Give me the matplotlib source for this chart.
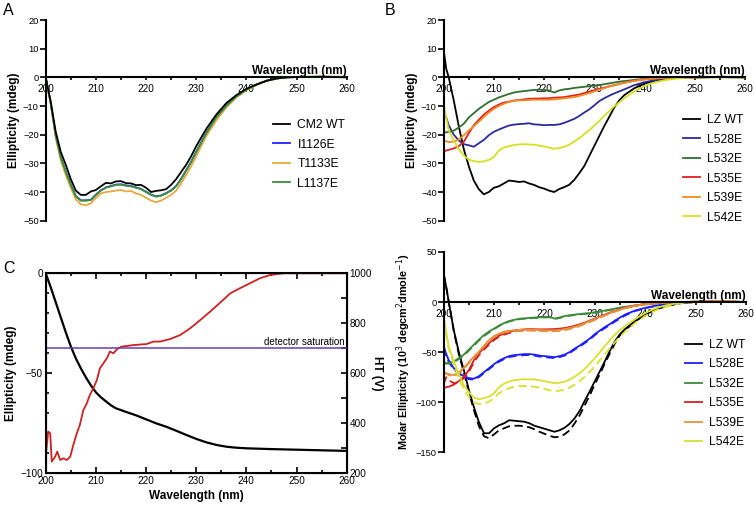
import numpy as np
import matplotlib.pyplot as plt
from matplotlib.ticker import MultipleLocator

plt.rcParams['font.family'] = ['Liberation Sans', 'DejaVu Sans']

# ---------------- panel A ----------------
wl_a = [200, 201, 202, 203, 204, 205, 206, 207, 208, 209, 210, 211, 212, 213, 214, 215,
        216, 217, 218, 219, 220, 221, 222, 223, 224, 225, 226, 227, 228, 229, 230, 232,
        234, 236, 238, 240, 242, 244, 246, 248, 250, 255, 260]
cm2_wt = [0, -8.5, -19, -26, -30.5, -35.5, -39.5, -41, -41, -39.8, -39.3, -38, -36.8, -37,
          -36.3, -36.2, -36.9, -37, -37.6, -37.5, -38.5, -40, -39.6, -39.4, -39, -37.5, -35.5,
          -33, -30.5, -27.5, -24, -18, -13, -9, -6.2, -4, -2.5, -1.2, -0.4, 0, 0.1, 0.2, 0]
i1126e = [0, -9, -20.4, -27.9, -32.9, -37.4, -41.4, -42.9, -42.9, -42.7, -40.9, -39.4, -38.4,
          -37.9, -37.4, -37.3, -37.7, -37.9, -38.4, -38.9, -39.9, -40.9, -41.5, -41.2, -40.4,
          -39.4, -37.9, -35.4, -32.4, -29.4, -25.9, -19.4, -13.9, -9.9, -6.6, -4.2, -2.5,
          -1.2, -0.4, 0, 0.1, 0.2, 0.1]
t1133e = [0, -9, -21, -29, -34, -38.5, -42.5, -44.3, -44.6, -44, -42, -40.5, -40, -39.8,
          -39.5, -39.3, -39.8, -39.6, -40.5, -41, -42, -43, -43.5, -43, -42, -41, -39.5, -37,
          -34, -31, -27.5, -20.5, -15, -10.5, -7, -4.5, -2.7, -1.3, -0.5, 0, 0.2, 0.3, 0.2]
l1137e = [0, -9, -20.5, -28, -33, -37.5, -41.5, -43, -43, -42.8, -41, -39.5, -38.5, -38,
          -37.5, -37.4, -37.8, -38, -38.5, -39, -40, -41, -41.6, -41.3, -40.5, -39.5, -38,
          -35.5, -32.5, -29.5, -26, -19.5, -14, -10, -6.7, -4.3, -2.6, -1.2, -0.4, 0, 0.1,
          0.2, 0.1]

# ---------------- panel B / D common grid ----------------
wl_b = [200, 200.5, 201, 202, 203, 204, 205, 206, 207, 208, 209, 210, 211, 212, 213, 214,
        215, 216, 217, 218, 219, 220, 221, 222, 223, 224, 225, 226, 227, 228, 229, 230, 231,
        232, 233, 234, 235, 236, 238, 240, 242, 244, 246, 248, 250, 255, 260]

lz_wt = [9.5, 3, 0, -8, -17, -25, -31, -36, -39, -40.8, -40, -38.5, -38, -37, -36, -36.2,
         -36.5, -36.3, -37, -37.5, -38.3, -38.8, -39.5, -40, -39, -38.3, -37.5, -35.8, -33.5,
         -31, -27.5, -24, -20.5, -17, -13.8, -10.5, -8, -6.2, -3.8, -2.2, -1.2, -0.6, -0.2,
         0, 0, 0.1, 0]
l528e = [-11.5, -14, -16.7, -20, -22, -23.3, -23.7, -24.2, -23, -21.8, -20.2, -19, -18.2,
         -17.5, -16.8, -16.5, -16.3, -16.2, -16, -16.4, -16.5, -16.7, -16.6, -16.6, -16.4,
         -15.9, -15.2, -14.5, -13.5, -12.3, -11.2, -9.8, -8.3, -7.3, -6.4, -5.6, -4.9, -4.2,
         -2.7, -1.7, -1, -0.6, -0.3, -0.1, 0, 0.1, 0]
l532e = [-19, -19.2, -19, -18.6, -17.5, -16.2, -14, -12.5, -11, -9.8, -8.6, -7.8, -7, -6.4,
         -5.8, -5.3, -5, -4.8, -4.6, -4.4, -4.3, -4.4, -4.6, -5.3, -4.6, -4.2, -4, -3.7, -3.5,
         -3.3, -3.1, -2.9, -2.7, -2.4, -2.1, -1.8, -1.5, -1.3, -0.9, -0.5, -0.3, -0.2, -0.1,
         0, 0, 0.2, 0]
l535e = [-26, -25.5, -25.3, -24.8, -24, -22.5, -19.5, -16.7, -14.8, -13, -11.6, -10.4, -9.5,
         -8.8, -8.5, -8.1, -7.9, -7.7, -7.5, -7.4, -7.4, -7.3, -7.3, -7.1, -7, -6.9, -6.6,
         -6.3, -6, -5.5, -5, -4.5, -4, -3.6, -3.1, -2.7, -2.3, -1.9, -1.2, -0.7, -0.4, -0.2,
         -0.1, 0, 0, 0.2, 0.1]
l539e = [-22, -22.3, -22.6, -22.4, -21.7, -20.2, -18.5, -17, -15.5, -13.8, -12.3, -11, -10,
         -9.2, -8.6, -8.2, -8, -8, -7.9, -7.8, -7.8, -7.8, -7.8, -7.7, -7.5, -7.3, -7.1, -6.9,
         -6.5, -6, -5.5, -4.9, -4.3, -3.8, -3.2, -2.8, -2.3, -1.9, -1.2, -0.7, -0.4, -0.2,
         -0.1, 0, 0, 0.1, 0]
l542e = [-9.2, -14, -18.5, -22, -25, -27.3, -28.7, -29.2, -29.5, -29.3, -28.8, -27.8, -25.5,
         -24.5, -24, -23.6, -23.4, -23.3, -23.4, -23.5, -23.8, -24.1, -24.5, -24.9, -24.7,
         -24.2, -23.5, -22.4, -21.3, -19.8, -18.5, -16.8, -15.2, -13.4, -11.8, -10.1, -8.7,
         -7.3, -4.9, -3, -1.8, -1, -0.5, -0.2, 0, 0, 0]

# ---------------- panel D (molar ellipticity, solid / dashed) ----------------
lz_wt_m = [28, 15, 0, -28, -50, -68, -88, -105, -120, -131, -131, -126, -123, -121, -118,
           -118.5, -119, -119.5, -121, -123.5, -125, -126.5, -128, -129.5, -128, -125.5,
           -121.5, -116, -108.5, -98.5, -89, -79, -69, -59, -48.5, -39, -32, -27, -19, -12,
           -7.5, -4.2, -2, -0.6, 0, 0.5, 0]
lz_wt_m2 = [28, 15, 0, -29, -52, -70, -90, -108, -124, -134, -136, -132, -128, -126, -124,
            -123.5, -123.5, -124, -125, -127, -129.5, -131.5, -133.5, -135, -134.5, -132,
            -128, -121, -113, -103, -93, -82, -72, -61, -51, -41, -33, -28, -19.5, -12.5,
            -7.8, -4.4, -2.1, -0.7, 0, 0.5, 0]
l528e_m = [-44, -52, -58, -66, -71, -74, -76, -76.5, -74, -70, -66, -62, -58.5, -56, -54, -53,
           -52.5, -52, -52, -52.5, -53.5, -54, -54.5, -55, -54, -52.5, -50, -46.5, -43.5, -40,
           -36.5, -32, -28.5, -25, -22, -18.5, -15.5, -12.5, -8.5, -5.8, -3.8, -2.3, -1.2,
           -0.4, 0, 0.3, 0]
l528e_m2 = [-46, -54, -60, -67, -72, -75, -77, -77.5, -75, -71, -67, -63, -59.5, -57, -55,
            -54, -53.5, -53, -53, -53.5, -54.5, -55, -55.5, -56, -55, -53.5, -51, -47.5,
            -44.5, -41, -37.5, -33, -29.5, -26, -23, -19.5, -16.5, -13.5, -9, -6.2, -4, -2.4,
            -1.3, -0.5, 0, 0.3, 0]
l532e_m = [-61, -61.5, -61, -59.5, -56, -52.5, -47.5, -42.5, -37.5, -33, -29.5, -26.5, -23.5,
           -21, -19, -17.8, -16.8, -16.3, -15.9, -15.5, -15.2, -15, -14.8, -16.5, -15.5, -14,
           -13.2, -12.6, -12, -11.5, -11, -10.2, -9.4, -8.5, -7.6, -6.6, -5.6, -4.8, -3.5,
           -2.3, -1.5, -0.8, -0.3, 0, 0.2, 0.3, 0]
l532e_m2 = [-60, -61, -61.5, -60, -57, -53.5, -48.5, -43.5, -38.5, -34, -30.5, -27, -24,
            -21.5, -19.5, -18.2, -17.2, -16.7, -16.3, -16, -15.7, -15.5, -15.3, -17, -16,
            -14.5, -13.7, -13, -12.4, -11.9, -11.4, -10.6, -9.8, -8.9, -8, -7, -6, -5.1, -3.7,
            -2.4, -1.6, -0.9, -0.4, 0, 0.2, 0.3, 0]
l535e_m = [-86, -85, -84.5, -82.5, -79, -74.5, -68, -58, -51, -46, -41, -37, -33.5, -31.5,
           -30, -28.5, -27.8, -27.3, -27, -27.2, -27.3, -27.3, -27.2, -27, -26.6, -26, -25,
           -23.8, -22.2, -20.5, -18.5, -16.5, -14.5, -12.5, -10.5, -8.8, -7.2, -5.8, -3.5,
           -2, -1.1, -0.5, -0.1, 0, 0.3, 0.6, 0]
l535e_m2 = [-82, -75, -78, -81, -80, -76, -70, -60, -53, -47.5, -42.5, -38, -34.5, -32.5,
            -31, -29.5, -28.8, -28.3, -28, -28.2, -28.3, -28.4, -28.3, -28.1, -27.7, -27, -26,
            -24.8, -23.2, -21.4, -19.4, -17.3, -15.2, -13.1, -11, -9.2, -7.5, -6.1, -3.7,
            -2.1, -1.2, -0.6, -0.2, 0, 0.4, 0.7, 0]
l539e_m = [-71, -71.5, -72, -73, -70.5, -65.5, -60, -54.5, -49.5, -43.5, -38, -34, -31.5,
           -29.5, -28.8, -28.2, -27.8, -27.6, -27.5, -27.8, -28, -28.2, -28.3, -28.2, -27.8,
           -27, -26, -24.8, -23, -21, -19, -17, -15, -13, -11, -9.2, -7.5, -6, -3.7, -2.1,
           -1.1, -0.5, -0.1, 0, 0.2, 0.4, 0]
l539e_m2 = [-70, -71, -73, -74, -71.5, -66.5, -61, -55.5, -50.5, -44.5, -39, -35, -32.5,
            -30.5, -29.8, -29.2, -28.8, -28.6, -28.5, -28.8, -29, -29.2, -29.3, -29.2, -28.8,
            -28, -27, -25.8, -24, -22, -20, -17.8, -15.7, -13.6, -11.5, -9.6, -7.8, -6.3,
            -3.9, -2.2, -1.2, -0.6, -0.2, 0, 0.2, 0.4, 0]
l542e_m = [-14, -30, -44.5, -59, -72, -83, -90, -95.5, -97, -96, -94.5, -91, -85, -81.5,
           -79.5, -78, -77.5, -77, -77.2, -77.3, -78, -79, -80, -81, -80.5, -79.5, -77.5,
           -74.5, -71, -66.5, -61.5, -56, -50, -44, -38, -32.5, -28, -24, -17, -11, -6.3,
           -3.5, -1.5, -0.5, 0, 0.3, 0]
l542e_m2 = [-18, -33, -47, -62, -76, -87, -95, -100.5, -102, -101, -99.5, -96, -91, -88, -86,
            -84.5, -84, -83.8, -84, -84.5, -85.5, -86.5, -88, -89, -88.5, -87.5, -85.5, -82.5,
            -79, -74.5, -69.5, -64, -58, -52, -46, -40, -34.5, -29.5, -21, -14, -8.5, -4.8,
            -2.2, -0.8, 0, 0.4, 0]

# ---------------- panel C ----------------
wl_c = [200, 201, 202, 203, 204, 205, 206, 207, 208, 209, 210, 211, 212, 213, 214, 216, 218,
        220, 222, 224, 226, 228, 230, 232, 234, 236, 238, 240, 245, 250, 255, 260]
ell_c = [0, -7, -14.5, -22, -29.5, -36.5, -42.5, -47.5, -52, -56, -59.5, -62, -64, -66,
         -67.5, -69.3, -71, -73, -75, -76.7, -78.7, -80.8, -82.8, -84.5, -85.8, -86.7, -87.2,
         -87.5, -87.9, -88.2, -88.5, -88.8]
wl_ht = [200, 200.5, 200.9, 201.2, 201.9, 202.3, 202.9, 203.5, 204.2, 204.9, 205.5, 206.2,
         206.8, 207.5, 208.2, 208.8, 209.5, 210.2, 210.8, 211.5, 212.2, 212.8, 213.5, 214.2,
         215.1, 216.1, 217.5, 220.1, 221.5, 222.8, 224.8, 226.8, 228.8, 230.8, 232.8, 234.8,
         236.8, 238.7, 240.7, 242.7, 244.7, 247.4, 260]
ht_v = [267, 367, 360, 247, 267, 287, 253, 260, 253, 267, 313, 360, 393, 453, 480, 513, 540,
        573, 620, 640, 660, 687, 680, 696, 707, 709, 713, 717, 727, 727, 737, 753, 780, 813,
        847, 883, 920, 940, 960, 980, 993, 1000, 1000]
saturation_ht = 700

FS_TICK = 7.2
FS_LAB = 8.5
FS_LEG = 8.7


def style_cd(ax, ylo, yhi, ystep, ylabel):
    ax.set_xlim(200, 260)
    ax.set_ylim(ylo, yhi)
    for s in ('top', 'right'):
        ax.spines[s].set_visible(False)
    ax.spines['bottom'].set_position(('data', 0))
    ax.spines['bottom'].set_linewidth(1.5)
    ax.spines['left'].set_linewidth(1.5)
    ax.xaxis.set_major_locator(MultipleLocator(10))
    ax.xaxis.set_minor_locator(MultipleLocator(5))
    ax.yaxis.set_major_locator(MultipleLocator(ystep))
    ax.tick_params(axis='x', which='both', direction='out', length=2.5, width=1.2,
                   labelsize=FS_TICK, pad=2.5)
    ax.tick_params(axis='y', direction='out', length=4, width=1.2, labelsize=FS_TICK - 0.5,
                   pad=1)
    ax.set_ylabel(ylabel, fontsize=FS_LAB, fontweight='bold', labelpad=2)
    ax.text(260, 0, 'Wavelength (nm)', ha='right', va='bottom', fontsize=FS_LAB,
            fontweight='bold', transform=ax.transData,
            bbox=dict(boxstyle='square,pad=0.1', fc='none', ec='none'))
    ax.patch.set_visible(False)


fig = plt.figure(figsize=(7.54, 5.07), dpi=100)
W, H = 754, 507


def add_ax(x0, y0, x1, y1):
    return fig.add_axes([x0 / W, 1 - y1 / H, (x1 - x0) / W, (y1 - y0) / H])


leg_kw = dict(loc='upper left', frameon=False, fontsize=FS_LEG, handlelength=1.4,
              handletextpad=0.6, labelspacing=0.62, borderaxespad=0)

# panel A
axA = add_ax(45.7, 20, 346.7, 220.7)
axA.plot(wl_a, i1126e, color='#2020ff', lw=1.3, label='I1126E', zorder=1)
axA.plot(wl_a, t1133e, color='#e8a840', lw=1.3, label='T1133E', zorder=2)
axA.plot(wl_a, l1137e, color='#3a8f3a', lw=1.3, label='L1137E', zorder=3)
axA.plot(wl_a, cm2_wt, color='black', lw=1.3, label='CM2 WT', zorder=4)
style_cd(axA, -50, 20, 10, 'Ellipticity (mdeg)')
h, l = axA.get_legend_handles_labels()
order = [3, 0, 1, 2]
axA.legend([h[i] for i in order], [l[i] for i in order], bbox_to_anchor=(0.74, 0.53),
           **leg_kw)

# panel B
axB = add_ax(443.7, 20, 744.7, 220.7)
b_series = [(lz_wt, 'black', 'LZ WT'), (l528e, '#2b2b9a', 'L528E'),
            (l532e, '#2f6e2f', 'L532E'), (l535e, '#e02020', 'L535E'),
            (l539e, '#f08a24', 'L539E'), (l542e, '#d4e020', 'L542E')]
for vals, c, lab in b_series:
    axB.plot(wl_b, vals, color=c, lw=1.3, label=lab)
style_cd(axB, -50, 20, 10, 'Ellipticity (mdeg)')
axB.legend(bbox_to_anchor=(0.778, 0.555), **leg_kw)

# panel D
axD = add_ax(443.7, 251.9, 746, 452.3)
d_series = [(lz_wt_m, lz_wt_m2, 'black', 'LZ WT'), (l528e_m, l528e_m2, '#1f1fff', 'L528E'),
            (l532e_m, l532e_m2, '#3a8a3a', 'L532E'), (l535e_m, l535e_m2, '#d42020', 'L535E'),
            (l539e_m, l539e_m2, '#e8913a', 'L539E'), (l542e_m, l542e_m2, '#d8e030', 'L542E')]
for solid, dashed, c, lab in d_series:
    axD.plot(wl_b, solid, color=c, lw=1.3, label=lab)
    axD.plot(wl_b, dashed, color=c, lw=1.3, ls=(0, (4.5, 2.5)))
style_cd(axD, -150, 50, 50, 'Molar Ellipticity (10$^3$ degcm$^2$dmole$^{-1}$)')
axD.yaxis.label.set_fontsize(7.8)
axD.legend(bbox_to_anchor=(0.783, 0.59), **leg_kw)

# panel C
axC = add_ax(45.7, 273.3, 346.7, 473.3)
axC.plot(wl_c, ell_c, color='black', lw=1.6, zorder=3)
axC.set_xlim(200, 260)
axC.set_ylim(-100, 0)
axC.xaxis.set_major_locator(MultipleLocator(10))
axC.xaxis.set_minor_locator(MultipleLocator(5))
axC.yaxis.set_major_locator(MultipleLocator(50))
axC.yaxis.set_minor_locator(MultipleLocator(10))
axC.tick_params(which='both', direction='in', top=True, width=1.2, labelsize=FS_TICK,
                pad=2)
axC.tick_params(which='major', length=4)
axC.tick_params(which='minor', length=2.5)
axC.tick_params(axis='y', which='both', right=False)
for s in axC.spines.values():
    s.set_linewidth(1.5)
axC.set_xlabel('Wavelength (nm)', fontsize=FS_LAB, fontweight='bold', labelpad=3)
axC.set_ylabel('Ellipticity (mdeg)', fontsize=FS_LAB, fontweight='bold', labelpad=2)

axC2 = axC.twinx()
axC2.plot(wl_ht, ht_v, color='#cc2222', lw=1.3, zorder=2)
axC2.axhline(saturation_ht, color='#6a3fa8', lw=1.1)
axC2.text(259.6, saturation_ht + 4, 'detector saturation', ha='right', va='bottom',
          fontsize=7)
axC2.set_ylim(200, 1000)
axC2.yaxis.set_major_locator(MultipleLocator(200))
axC2.yaxis.set_minor_locator(MultipleLocator(100))
axC2.tick_params(which='both', direction='in', width=1.2, labelsize=FS_TICK, pad=2)
axC2.tick_params(which='major', length=4)
axC2.tick_params(which='minor', length=4)
axC2.set_ylabel('HT (V)', fontsize=FS_LAB, fontweight='bold', rotation=270, labelpad=8)

# panel letters
fig.text(0.004, 0.995, 'A', fontsize=11.5, va='top', ha='left')
fig.text(385 / W, 0.995, 'B', fontsize=11.5, va='top', ha='left')
fig.text(0.004, 1 - 261 / H, 'C', fontsize=11.5, va='top', ha='left')

fig.savefig('out.png', dpi=100)
